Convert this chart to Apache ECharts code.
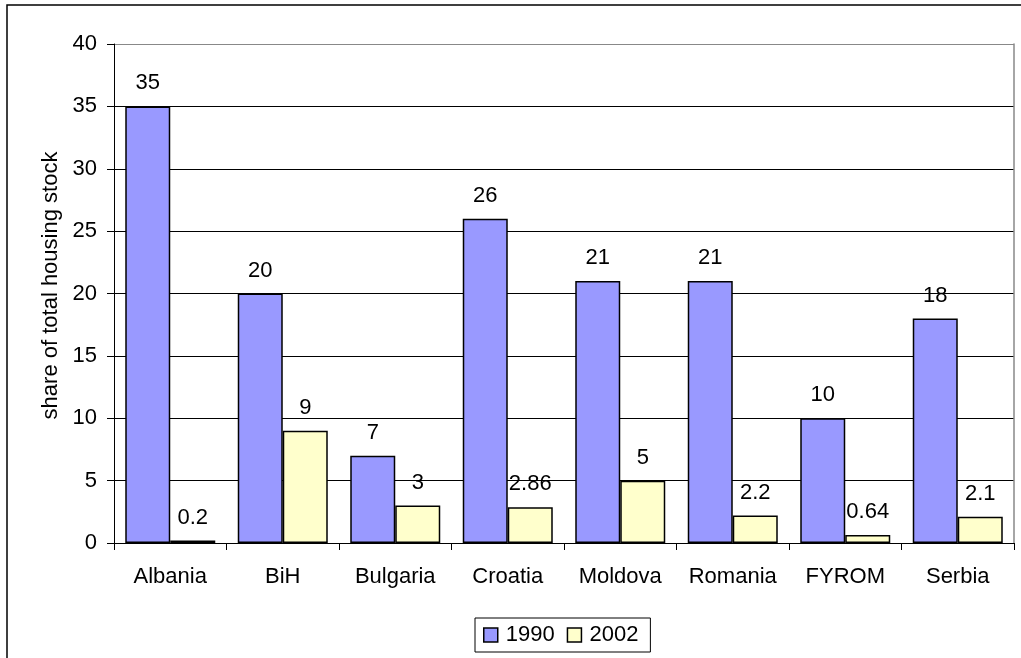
<!DOCTYPE html>
<html>
<head>
<meta charset="utf-8">
<script src="https://cdn.jsdelivr.net/npm/echarts@6/dist/echarts.min.js"></script>
<style>
  html, body { margin: 0; padding: 0; background: #fff; }
  #chart { width: 1021px; height: 658px; }
</style>
</head>
<body>
<div id="chart"></div>
<script>
var countries = ['Albania', 'BiH', 'Bulgaria', 'Croatia', 'Moldova', 'Romania', 'FYROM', 'Serbia']
var share1990 = [35, 20, 7, 26, 21, 21, 10, 18]
var share2002 = [0.2, 9, 3, 2.86, 5, 2.2, 0.64, 2.1]
var yTicks = [0, 5, 10, 15, 20, 25, 30, 35, 40]

var font = 'Liberation Sans, Arial, sans-serif'
var fs = 22
var myChart = echarts.init(document.getElementById('chart'))

var labelStyle = {
  show: true,
  position: 'top',
  distance: 12,
  color: '#000',
  fontSize: fs,
  fontFamily: font
}

var option = {
  animation: false,
  textStyle: { fontFamily: font },
  graphic: [
    {
      type: 'rect',
      shape: { x: 7, y: 5, width: 1030, height: 670 },
      style: { fill: 'none', stroke: '#000', lineWidth: 1.5 },
      silent: true
    }
  ],
  grid: {
    left: 114,
    right: 7,
    top: 44,
    bottom: 115
  },
  legend: {
    left: 475,
    top: 618,
    padding: [6, 12, 6, 8],
    itemGap: 12,
    itemWidth: 14,
    itemHeight: 14,
    icon: 'rect',
    borderColor: '#000',
    borderWidth: 1,
    itemStyle: { borderColor: '#000', borderWidth: 1.5 },
    textStyle: { fontSize: fs, color: '#000', fontFamily: font, padding: [0, 0, 0, 3] },
    data: ['1990', '2002']
  },
  xAxis: {
    type: 'category',
    data: countries,
    axisLine: { show: true, lineStyle: { color: '#000', width: 1 } },
    axisTick: { show: true, interval: 0, length: 7, alignWithLabel: false, lineStyle: { color: '#000' } },
    axisLabel: { interval: 0, fontSize: fs, color: '#000', margin: 23, fontFamily: font }
  },
  yAxis: [
    {
      type: 'value',
      min: 0,
      max: yTicks[yTicks.length - 1],
      interval: 5,
      name: 'share of total housing stock',
      nameLocation: 'middle',
      nameGap: 52,
      nameTextStyle: { fontSize: fs, color: '#000', fontFamily: font, padding: [0, 0, 0, 16] },
      axisLine: { show: true, lineStyle: { color: '#000' } },
      axisTick: { show: true, length: 7, inside: false, lineStyle: { color: '#000' } },
      axisLabel: { fontSize: fs, color: '#000', margin: 17, fontFamily: font },
      splitLine: {
        show: true,
        lineStyle: {
          color: ['#000', '#000', '#000', '#000', '#000', '#000', '#000', '#000', '#888'],
          width: 1
        }
      }
    },
    {
      type: 'value',
      position: 'right',
      min: 0,
      max: 40,
      interval: 5,
      axisLine: { show: true, lineStyle: { color: '#888', width: 1.5 } },
      axisTick: { show: false },
      axisLabel: { show: false },
      splitLine: { show: false }
    }
  ],
  series: [
    {
      name: '1990',
      type: 'bar',
      data: share1990,
      barGap: '0%',
      barCategoryGap: '20%',
      itemStyle: { color: '#9999FF', borderColor: '#000', borderWidth: 1.5 },
      label: labelStyle
    },
    {
      name: '2002',
      type: 'bar',
      data: share2002,
      barGap: '0%',
      barCategoryGap: '20%',
      itemStyle: { color: '#FFFFCC', borderColor: '#000', borderWidth: 1.5 },
      label: labelStyle
    }
  ]
}
myChart.setOption(option)
</script>
</body>
</html>
